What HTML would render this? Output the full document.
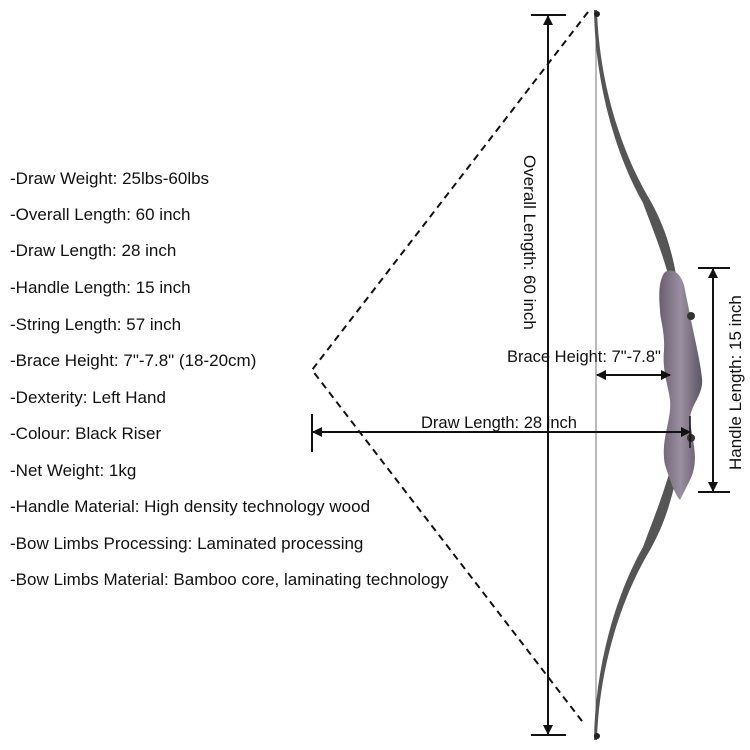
<!DOCTYPE html>
<html><head><meta charset="utf-8"><style>
body{margin:0;background:#fff}
svg{display:block}
text{font-family:"Liberation Sans",sans-serif;fill:#111}
</style></head><body>
<svg width="750" height="750" viewBox="0 0 750 750">
<defs>
<marker id="ah" markerWidth="10" markerHeight="10" refX="9" refY="5" orient="auto-start-reverse" markerUnits="userSpaceOnUse"><path d="M0,0 L10,5 L0,10 z" fill="#111"/></marker>
<linearGradient id="wood" x1="0" x2="1"><stop offset="0" stop-color="#6a5f70"/><stop offset="0.5" stop-color="#9a8fa0"/><stop offset="1" stop-color="#5c5462"/></linearGradient>
</defs>
<g font-size="17">
<text x="10" y="184">-Draw Weight: 25lbs-60lbs</text>
<text x="10" y="220">-Overall Length: 60 inch</text>
<text x="10" y="256">-Draw Length: 28 inch</text>
<text x="10" y="293">-Handle Length: 15 inch</text>
<text x="10" y="330">-String Length: 57 inch</text>
<text x="10" y="366">-Brace Height: 7"-7.8" (18-20cm)</text>
<text x="10" y="403">-Dexterity: Left Hand</text>
<text x="10" y="439">-Colour: Black Riser</text>
<text x="10" y="476">-Net Weight: 1kg</text>
<text x="10" y="512">-Handle Material: High density technology wood</text>
<text x="10" y="549">-Bow Limbs Processing: Laminated processing</text>
<text x="10" y="585">-Bow Limbs Material: Bamboo core, laminating technology</text>
</g>
<path d="M588,12 L312,370 L585,725" fill="none" stroke="#111" stroke-width="2" stroke-dasharray="7,5"/>
<line x1="596" y1="14" x2="596" y2="736" stroke="#777" stroke-width="1"/>
<path d="M597,10 C599,80 620,150 650,200 C668,232 675,262 680,300 L674,300 C667,262 652,228 643,203 C614,152 595,80 594,10 z" fill="#555"/>
<path d="M597,740 C599,670 620,600 650,550 C668,518 675,488 684,440 L678,440 C667,488 652,522 643,547 C614,598 595,670 594,740 z" fill="#555"/>
<path d="M665,272 C672,268 680,272 684,285 L690,315 C695,340 700,360 702,378 C704,395 690,405 690,420 C692,440 700,460 690,480 L680,500 C675,495 670,480 665,465 C660,440 672,420 670,400 C668,385 662,370 664,350 C665,330 660,320 660,310 C658,290 660,278 665,272 z" fill="url(#wood)"/>
<circle cx="691" cy="316" r="4" fill="#333"/><circle cx="691" cy="438" r="4" fill="#333"/>
<circle cx="597" cy="14" r="3" fill="#222"/><circle cx="597" cy="736" r="3" fill="#222"/>
<g>
<line x1="531" y1="15" x2="566" y2="15" stroke="#111" stroke-width="2"/>
<line x1="531" y1="735" x2="566" y2="735" stroke="#111" stroke-width="2"/>
<line x1="548" y1="16" x2="548" y2="734" stroke="#111" stroke-width="2" marker-start="url(#ah)" marker-end="url(#ah)"/>
<text transform="translate(524,155) rotate(90)" font-size="17">Overall Length: 60 inch</text>
</g>
<g>
<line x1="597" y1="375" x2="670" y2="375" stroke="#111" stroke-width="2" marker-start="url(#ah)" marker-end="url(#ah)"/>
<text x="507" y="362" font-size="16.5">Brace Height: 7"-7.8"</text>
</g>
<g>
<line x1="312" y1="414" x2="312" y2="452" stroke="#111" stroke-width="2"/>
<line x1="313" y1="432" x2="690" y2="432" stroke="#111" stroke-width="2" marker-start="url(#ah)" marker-end="url(#ah)"/>
<line x1="690" y1="416" x2="690" y2="448" stroke="#111" stroke-width="1.5"/>
<text x="421" y="428" font-size="16.5">Draw Length: 28 inch</text>
</g>
<g>
<line x1="698" y1="268" x2="730" y2="268" stroke="#111" stroke-width="2"/>
<line x1="698" y1="492" x2="730" y2="492" stroke="#111" stroke-width="2"/>
<line x1="713" y1="269" x2="713" y2="491" stroke="#111" stroke-width="2" marker-start="url(#ah)" marker-end="url(#ah)"/>
<text transform="translate(741,470) rotate(-90)" font-size="17">Handle Length: 15 inch</text>
</g>
</svg>
</body></html>
